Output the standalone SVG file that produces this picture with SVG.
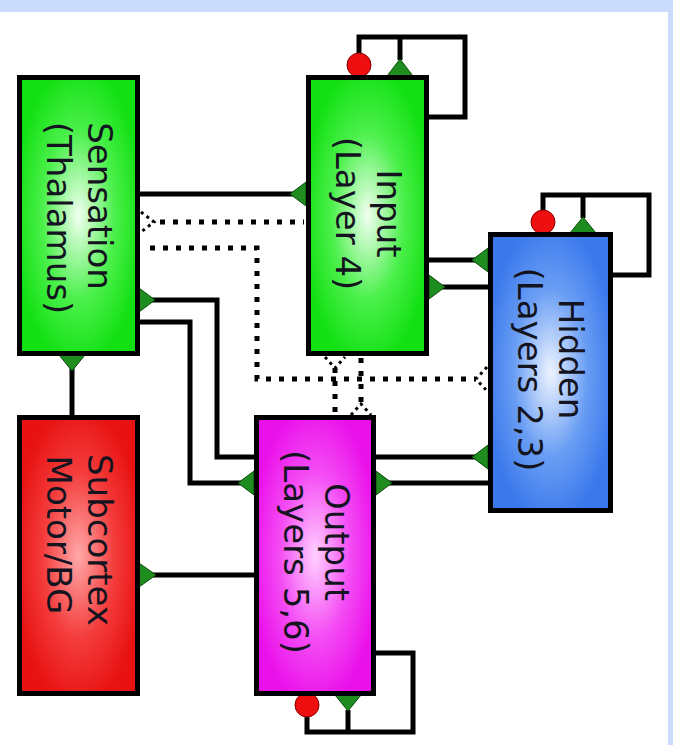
<svg xmlns="http://www.w3.org/2000/svg" width="673" height="745" viewBox="0 0 673 745">
<defs>
<radialGradient id="gGreen" cx="0.5" cy="0.5" r="0.55">
<stop offset="0" stop-color="#f2fff2"/><stop offset="0.55" stop-color="#4cf04c"/><stop offset="1" stop-color="#12e012"/>
</radialGradient>
<radialGradient id="gBlue" cx="0.5" cy="0.5" r="0.55">
<stop offset="0" stop-color="#eef4ff"/><stop offset="0.55" stop-color="#6a9ef4"/><stop offset="1" stop-color="#3a78ec"/>
</radialGradient>
<radialGradient id="gMag" cx="0.5" cy="0.5" r="0.55">
<stop offset="0" stop-color="#ffd0ff"/><stop offset="0.55" stop-color="#f44cf4"/><stop offset="1" stop-color="#ea10ea"/>
</radialGradient>
<radialGradient id="gRed" cx="0.5" cy="0.5" r="0.55">
<stop offset="0" stop-color="#ffa8a8"/><stop offset="0.55" stop-color="#f43c3c"/><stop offset="1" stop-color="#e81212"/>
</radialGradient>
<style>
.box{stroke:#000;stroke-width:5}
.ln{fill:none;stroke:#000;stroke-width:5}
.dot{fill:none;stroke:#000;stroke-width:5;stroke-dasharray:5 8}
.dah{fill:none;stroke:#000;stroke-width:3;stroke-dasharray:3 4}
.tri{fill:#1e8c1e;stroke:#0a4a0a;stroke-width:1}
.inh{fill:#ee1010;stroke:#8a0000;stroke-width:1}
.lbl{font-family:"DejaVu Sans",Verdana,sans-serif;font-size:34px;fill:#141420;text-anchor:middle}
</style>
</defs>
<rect x="0" y="0" width="673" height="745" fill="#ffffff"/>
<rect x="0" y="0" width="673" height="12" fill="#cbdbfc"/>
<rect x="668" y="0" width="5" height="745" fill="#cbdbfc"/>

<g id="connectors">
<!-- solid projections -->
<path class="ln" d="M72,355 V416"/>
<path class="ln" d="M139,194 H306"/>
<path class="ln" d="M429,260 H488"/>
<path class="ln" d="M429,287 H488"/>
<path class="ln" d="M376,457 H488"/>
<path class="ln" d="M376,483 H488"/>
<path class="ln" d="M139,300 H217 V457 H254"/>
<path class="ln" d="M139,322 H190 V483 H254"/>
<path class="ln" d="M139,575 H254"/>
<!-- self loops -->
<path class="ln" d="M359,66 V37 H465 V117 H429"/>
<path class="ln" d="M400,60 V37"/>
<path class="ln" d="M543,222 V195 H649 V275 H613"/>
<path class="ln" d="M583,218 V195"/>
<path class="ln" d="M376,653 H413 V732 H307 V705"/>
<path class="ln" d="M348,710 V732"/>
<!-- dotted projections -->
<path class="dot" d="M160,222 H304"/>
<path class="dot" d="M150,248 H257 V379 H476"/>
<path class="dot" d="M335,368 V414"/>
<path class="dot" d="M361,358 V404"/>
<!-- dotted heads -->
<path class="dah" d="M141,212 L154,222 L141,232"/>
<path class="dah" d="M487,367 L476,379 L487,391"/>
<path class="dah" d="M325,357 L335,368 L345,357"/>
<path class="dah" d="M351,415 L361,404 L371,415"/>
<!-- excitatory heads -->
<polygon class="tri" points="59,355 85,355 72,371"/>
<polygon class="tri" points="306,182 306,206 290,194"/>
<polygon class="tri" points="488,248 488,272 472,260"/>
<polygon class="tri" points="429,275 429,299 445,287"/>
<polygon class="tri" points="488,445 488,469 472,457"/>
<polygon class="tri" points="376,471 376,495 392,483"/>
<polygon class="tri" points="139,288 139,312 155,300"/>
<polygon class="tri" points="254,471 254,495 238,483"/>
<polygon class="tri" points="139,563 139,587 156,575"/>
<polygon class="tri" points="387,76 413,76 400,59"/>
<polygon class="tri" points="570,233 596,233 583,217"/>
<polygon class="tri" points="335,695 361,695 348,711"/>
<!-- inhibitory heads -->
<circle class="inh" cx="359" cy="65" r="12"/>
<circle class="inh" cx="543" cy="222" r="12"/>
<circle class="inh" cx="307" cy="705" r="12"/>
</g>

<g id="sensation">
<rect class="box" x="19.5" y="77.5" width="118" height="276" fill="url(#gGreen)"/>
<text class="lbl" transform="translate(88,206) rotate(90)">Sensation</text>
<text class="lbl" transform="translate(47,218) rotate(90)">(Thalamus)</text>
</g>
<g id="input">
<rect class="box" x="308.5" y="77.5" width="118" height="276" fill="url(#gGreen)"/>
<text class="lbl" transform="translate(377,213.5) rotate(90)">Input</text>
<text class="lbl" transform="translate(336,213.5) rotate(90)">(Layer 4)</text>
</g>
<g id="hidden">
<rect class="box" x="490.5" y="234.5" width="120" height="276" fill="url(#gBlue)"/>
<text class="lbl" transform="translate(559,359) rotate(90)">Hidden</text>
<text class="lbl" transform="translate(518,369.5) rotate(90)">(Layers 2,3)</text>
</g>
<g id="output">
<rect class="box" x="256.5" y="417.5" width="117" height="276" fill="url(#gMag)"/>
<text class="lbl" transform="translate(325,542) rotate(90)">Output</text>
<text class="lbl" transform="translate(284,552) rotate(90)">(Layers 5,6)</text>
</g>
<g id="subcortex">
<rect class="box" x="19.5" y="417.5" width="118" height="276" fill="url(#gRed)"/>
<text class="lbl" transform="translate(88,540) rotate(90)">Subcortex</text>
<text class="lbl" transform="translate(47,535) rotate(90)">Motor/BG</text>
</g>
</svg>
